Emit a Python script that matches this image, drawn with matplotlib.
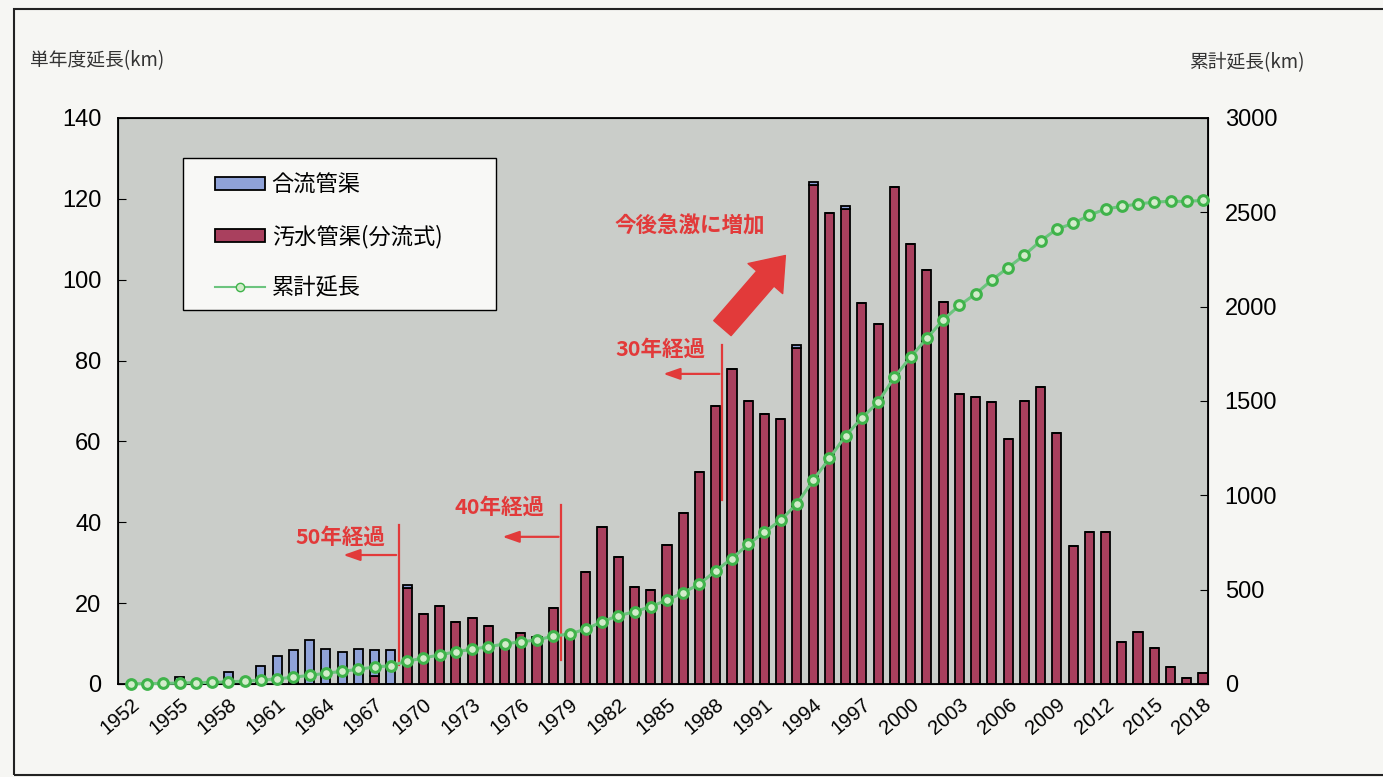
import matplotlib
matplotlib.use("Agg")
import matplotlib.pyplot as plt
from matplotlib.patches import Patch, Rectangle
from matplotlib.lines import Line2D

plt.rcParams['font.family'] = ['Noto Sans CJK JP', 'DejaVu Sans']

# データ (1952-2018)
years = list(range(1952, 2019))
# 汚水管渠(分流式) 単年度延長 km
sewage = [0, 0, 0, 0, 0, 0, 0, 0, 0, 0,            # 1952-1961
          0, 0, 0, 0, 0, 2.0, 0, 23.7, 17.4, 19.3,  # 1962-1971
          15.4, 16.4, 14.4, 9.5, 12.5, 11.7, 18.8, 11.5, 27.6, 38.9,  # 1972-1981
          31.5, 24.0, 23.2, 34.4, 42.4, 52.4, 68.8, 77.8, 69.9, 66.9,  # 1982-1991
          65.6, 83.0, 123.4, 116.6, 117.6, 94.2, 89.0, 122.8, 108.8, 102.4,  # 1992-2001
          94.6, 71.8, 71.0, 69.7, 60.5, 70.0, 73.4, 62.0, 34.2, 37.6,  # 2002-2011
          37.6, 10.3, 12.8, 8.8, 4.2, 1.6, 2.6]  # 2012-2018
# 合流管渠 単年度延長 km
combined = [0, 0, 0.3, 1.8, 0, 0, 3.0, 0, 4.4, 6.8,     # 1952-1961
            8.5, 10.8, 8.7, 7.8, 8.7, 6.5, 8.3, 0.7, 0, 0,  # 1962-1971
            0, 0, 0, 0, 0, 0, 0, 0, 0, 0,                   # 1972-1981
            0, 0, 0, 0, 0, 0, 0, 0, 0, 0,                   # 1982-1991
            0, 0.8, 0.8, 0, 0.5, 0, 0, 0, 0, 0,             # 1992-2001
            0, 0, 0, 0, 0, 0, 0, 0, 0, 0,                   # 2002-2011
            0, 0, 0, 0, 0, 0, 0]                            # 2012-2018
# 累計延長 km
cumulative = [1, 2, 3, 5, 7, 8, 12, 15, 20, 27,
              36, 46, 57, 67, 78, 90, 97, 120, 138, 154,
              171, 184, 198, 212, 224, 233, 254, 265, 291, 330,
              362, 383, 410, 445, 484, 530, 600, 665, 740, 805,
              868, 955, 1080, 1196, 1316, 1410, 1494, 1626, 1733, 1832,
              1930, 2006, 2068, 2141, 2207, 2273, 2348, 2411, 2441, 2484,
              2518, 2531, 2544, 2554, 2558, 2558, 2563]

xtick_years = list(range(1952, 2019, 3))

red = '#a9405e'
blue = '#8fa2d8'
green_line = '#6cc47e'
green_mk = '#3fb34a'
note_red = '#e23a3a'

fig = plt.figure(figsize=(13.83, 7.77), dpi=100, facecolor='#f6f6f3')
ax = fig.add_axes([0.0853, 0.1197, 0.7882, 0.7285])
ax.set_facecolor('#cacdc9')

ax.bar(years, sewage, width=0.56, color=red, edgecolor='black', linewidth=1.3, zorder=2)
ax.bar(years, combined, width=0.56, bottom=sewage, color=blue, edgecolor='black', linewidth=1.3, zorder=2)

ax.set_ylim(0, 140)
ax.set_yticks(range(0, 141, 20))
ax.set_xlim(1952 - 0.8, 2018 + 0.31)
ax.set_xticks(xtick_years)
ax.set_xticks(years, minor=True)
ax.set_xticklabels([str(y) for y in xtick_years], rotation=40, ha='right',
                   rotation_mode='anchor', fontsize=14.5, fontfamily='Liberation Sans')
for lab in ax.get_yticklabels():
    lab.set_fontsize(17)
    lab.set_fontfamily('Liberation Sans')
ax.tick_params(axis='y', direction='in', length=6, pad=12)
ax.tick_params(axis='x', which='both', direction='in', length=3, pad=8)
for s in ax.spines.values():
    s.set_linewidth(1.3)

ax2 = ax.twinx()
ax2.plot(years, cumulative, color=green_line, linewidth=2.2, marker='o', markersize=7,
         markerfacecolor='#d2ecca', markeredgecolor=green_mk, markeredgewidth=2.2,
         clip_on=False, zorder=3)
ax2.set_ylim(0, 3000)
ax2.set_yticks(range(0, 3001, 500))
for lab in ax2.get_yticklabels():
    lab.set_fontsize(17)
    lab.set_fontfamily('Liberation Sans')
ax2.tick_params(axis='y', direction='in', length=6, pad=12)

# 経過年数の注記
notes = [(1968.5, 39.4, 4.7, 31.9, 1964.9, '50年経過', 36.4),
         (1978.5, 44.3, 5.9, 36.4, 1974.7, '40年経過', 43.6),
         (1988.4, 83.9, 45.5, 76.7, 1984.6, '30年経過', 82.7)]
for xv, ytop, ybot, yarr, xend, txt, ytxt in notes:
    ax.plot([xv, xv], [ybot, ytop], color=note_red, linewidth=1.6, zorder=4)
    ax.annotate('', xy=(xend, yarr), xytext=(xv, yarr),
                arrowprops=dict(arrowstyle='-|>,head_width=0.35,head_length=1.0',
                                color=note_red, linewidth=1.6), zorder=4)
    ax.text(xend, ytxt, txt, color=note_red, fontsize=15.5, fontweight='bold',
            ha='center', va='center', zorder=4)

ax.text(1986.4, 113.4, '今後急激に増加', color=note_red, fontsize=15.5, fontweight='bold',
        ha='center', va='center', zorder=4)
ax.annotate('', xy=(1992.4, 106.5), xytext=(1988.3, 87.5),
            arrowprops=dict(arrowstyle='simple,head_width=1.5,head_length=1.0,tail_width=0.75',
                            color=note_red, mutation_scale=22), zorder=4)

# 凡例 (枠は手描き)
ax2.add_patch(Rectangle((0.0596, 0.6608), 0.2872, 0.2685, transform=ax2.transAxes,
                        facecolor='#f8f8f6', edgecolor='black', linewidth=1.0, zorder=9))
handles = [Patch(facecolor=blue, edgecolor='black', linewidth=1.3),
           Patch(facecolor=red, edgecolor='black', linewidth=1.3),
           Line2D([], [], color=green_line, linewidth=1.5, marker='o', markersize=6,
                  markerfacecolor='#d2ecca', markeredgecolor=green_mk)]
leg = ax2.legend(handles, ['合流管渠', '汚水管渠(分流式)', '累計延長'],
                 loc='upper left', bbox_to_anchor=(0.089, 0.902), fontsize=16,
                 frameon=False, handlelength=2.25, handleheight=0.5, labelspacing=1.27,
                 borderpad=0, handletextpad=0.3, borderaxespad=0)
leg.set_zorder(10)

fig.text(0.022, 0.922, '単年度延長(km)', fontsize=13.5, color='#333333', va='center')
fig.text(0.860, 0.920, '累計延長(km)', fontsize=13.5, color='#333333', va='center')

# 紙面の枠
fig.patches.append(Rectangle((0.010, 0.003), 1.0, 0.985, transform=fig.transFigure,
                             fill=False, edgecolor='#222222', linewidth=1.5))

fig.savefig('out.png', dpi=100, facecolor=fig.get_facecolor())
